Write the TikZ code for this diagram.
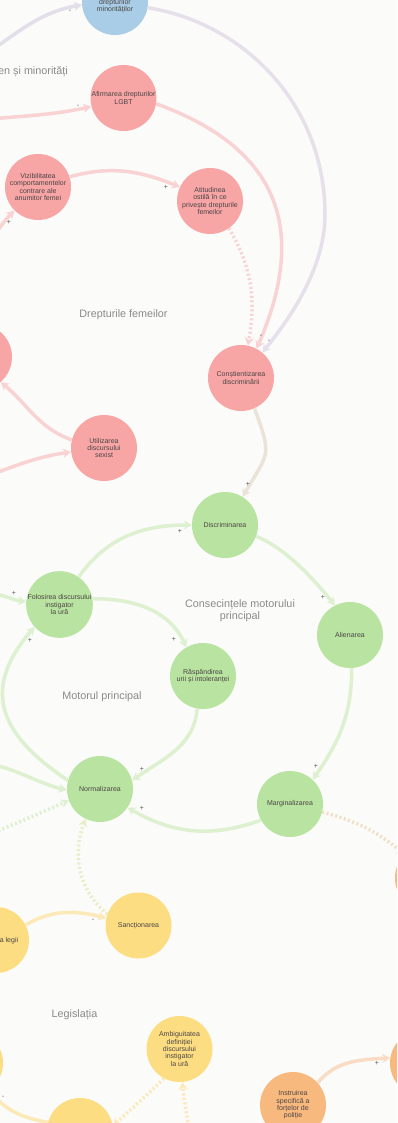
\documentclass[tikz,border=0pt]{standalone}
\usepackage{fontspec}
\setmainfont{Liberation Sans}
\usetikzlibrary{arrows.meta}
\definecolor{bg}{HTML}{FBFBF9}
\definecolor{cred}{HTML}{F8A5A6}
\definecolor{cgreen}{HTML}{B9E3A0}
\definecolor{cblue}{HTML}{A9CDE7}
\definecolor{cyellow}{HTML}{FDDD82}
\definecolor{corange}{HTML}{F8B97F}
\definecolor{lpink}{HTML}{F9D3D3}
\definecolor{lgreen}{HTML}{DDF0CF}
\definecolor{lyellow}{HTML}{FCE9B8}
\definecolor{lorange}{HTML}{F9DCC3}
\definecolor{lblue}{HTML}{E2DEEA}
\definecolor{lbluepink}{HTML}{E6E0EA}
\definecolor{lpinkgreen}{HTML}{ECE3D8}
\definecolor{lgreenyellow}{HTML}{EAEDC8}
\definecolor{lgreenorange}{HTML}{F0E0C8}
\definecolor{ntext}{HTML}{4A4545}
\definecolor{cgrp}{HTML}{8A8A8A}
\definecolor{csgn}{HTML}{555555}
\tikzset{
  nd/.style={circle, minimum size=66pt, inner sep=0pt, align=center,
    font=\fontsize{7}{7.4}\selectfont, text=ntext},
  rednd/.style={nd, fill=cred},
  greennd/.style={nd, fill=cgreen},
  bluend/.style={nd, fill=cblue},
  yellownd/.style={nd, fill=cyellow},
  orangend/.style={nd, fill=corange},
  ntxt/.style={align=center, inner sep=0pt, font=\fontsize{7}{7.4}\selectfont, text=ntext},
  conn/.style={line width=3.5pt, -{Stealth[length=8pt,width=9pt]}},
  dotc/.style={conn, dash pattern=on 2pt off 2.5pt},
  grp/.style={font=\fontsize{10.8}{11.5}\selectfont, text=cgrp, align=center, inner sep=0pt},
  sgn/.style={font=\fontsize{7}{7}\selectfont, text=csgn, inner sep=0pt},
}
\begin{document}
\begin{tikzpicture}[x=1pt,y=1pt]
\useasboundingbox (0,0) rectangle (397,-1123);
\fill[bg] (0,0) rectangle (397,-1123);
\clip (0,0) rectangle (397,-1123);

% nodes
\node[bluend] (blue) at (115,-2) {};
\node[ntxt] (bluet) at (115,-6) {drepturilor\\minorităților};
\node[rednd] (afirm) at (123.5,-98) {Afirmarea drepturilor\\LGBT};
\node[rednd] (viz) at (38,-187) {Vizibilitatea\\comportamentelor\\contrare ale\\anumitor femei};
\node[rednd] (atit) at (210,-201) {Atitudinea\\ostilă în ce\\privește drepturile\\femeilor};
\node[rednd] (consc) at (241,-378) {Conștientizarea\\discriminării};
\node[rednd] (util) at (104,-448) {Utilizarea\\discursului\\sexist};
\node[rednd] (lred) at (-21,-357) {};
\node[greennd] (disc) at (225,-525) {Discriminarea};
\node[greennd] (fol) at (59.5,-604.5) {Folosirea discursului\\instigator\\la ură};
\node[greennd] (alien) at (350,-635) {Alienarea};
\node[greennd] (rasp) at (203,-676) {Răspândirea\\urii și intoleranței};
\node[greennd] (norm) at (100,-789) {Normalizarea};
\node[greennd] (marg) at (290,-804) {Marginalizarea};
\node[yellownd] (sanc) at (138.5,-925.5) {Sancționarea};
\node[yellownd] (legii) at (-4,-940) {};
\node[ntxt] (legiit) at (9,-940.5) {a legii};
\node[yellownd] (lyel) at (-30,-1063) {};
\node[yellownd] (amb) at (179.5,-1049) {Ambiguitatea\\definiției\\discursului\\instigator\\la ură};
\node[yellownd] (byel) at (80,-1131) {};
\node[orangend] (instr) at (293,-1105) {Instruirea\\specifică a\\forțelor de\\poliție};
\node[orangend] (or1) at (428,-878) {};
\node[orangend] (or2) at (423,-1063) {};

% group labels
\node[grp, anchor=west] (gmin) at (-2,-72) {en și minorități};
\node[grp] (gfem) at (123.5,-315) {Drepturile femeilor};
\node[grp] (gcons) at (240,-610.5) {Consecințele motorului\\principal};
\node[grp] (gmot) at (102,-697) {Motorul principal};
\node[grp] (gleg) at (74.5,-1015) {Legislația};

% free ends
\coordinate (ea) at (-8,-50);
\coordinate (ec) at (-10,-119);
\coordinate (ef) at (-10,-240);
\coordinate (ei) at (-10,-475);
\coordinate (er) at (-10,-594);
\coordinate (es) at (-10,-764);
\coordinate (et) at (-10,-834);
\coordinate (ez) at (190,-1140);

% red / blue connectors
\draw[conn, draw=lblue] (ea) to[out=35,in=190] (blue.185);
\draw[conn, draw=lbluepink] (blue.-10) .. controls (240,-22) and (325,-101) .. (325,-215)
   .. controls (325,-270) and (287,-322) .. (consc.50);
\draw[conn, draw=lpink] (ec) to[out=5,in=192] (afirm.195);
\draw[conn, draw=lpink] (afirm.-10) .. controls (278,-148) and (309,-228) .. (consc.62);
\draw[conn, draw=lpink] (viz.18) to[out=15,in=158] (atit.155);
\draw[conn, draw=lpink] (ef) to[out=50,in=225] (viz.225);
\draw[dotc, draw=lpink] (atit.-55) to[out=-60,in=80] (consc.78);
\draw[conn, draw=lpink] (util.166) to[out=160,in=-40] (lred.-49);
\draw[conn, draw=lpink] (ei) to[out=20,in=188] (util.187);
\draw[conn, draw=lpinkgreen] (consc.-66) to[out=-70,in=60,looseness=1.5] (disc.58);

% green connectors
\draw[conn, draw=lgreen] (fol.55) to[out=55,in=180] (disc.180);
\draw[conn, draw=lgreen] (disc.-20) to[out=-22,in=129,looseness=0.8] (alien.117);
\draw[conn, draw=lgreen] (fol.10) to[out=0,in=115] (rasp.120);
\draw[conn, draw=lgreen] (rasp.-100) to[out=-95,in=35] (norm.15);
\draw[conn, draw=lgreen] (alien.-87) to[out=-90,in=55] (marg.47);
\draw[conn, draw=lgreen] (marg.209) to[out=200,in=-30] (norm.-34);
\draw[conn, draw=lgreen] (norm.165) .. controls (0,-735) and (-20,-690) .. (fol.222);
\draw[conn, draw=lgreen] (er) to[out=0,in=174] (fol.175);
\draw[conn, draw=lgreen] (es) to[out=-12,in=166] (norm.182);
\draw[dotc, draw=lgreen] (et) to[out=22,in=204] (norm.200);
\draw[dotc, draw=lgreenyellow] (sanc.160) to[out=140,in=250] (norm.-116);
\draw[dotc, draw=lgreenorange] (marg.-14) to[out=-15,in=140] (or1.135);

% yellow / orange connectors
\draw[conn, draw=lyellow] (legii.27) to[out=30,in=166] (sanc.167);
\draw[conn, draw=lyellow] (byel.165) to[out=170,in=-50] (lyel.-55);
\draw[dotc, draw=lyellow] (amb.-118) to[out=225,in=44] (byel.8);
\draw[dotc, draw=lyellow] (ez) to[out=95,in=-85] (amb.-85);
\draw[conn, draw=lorange] (instr.42) to[out=50,in=184] (or2.171);

% signs
\node[sgn] (s1) at (70,-11) {-};
\node[sgn] (s2) at (78,-106) {-};
\node[sgn] (s3) at (166,-187) {+};
\node[sgn] (s4) at (9,-222) {+};
\node[sgn] (s5) at (261,-336) {-};
\node[sgn] (s6) at (269,-341) {-};
\node[sgn] (s7) at (248,-484) {+};
\node[sgn] (s8) at (180,-531) {+};
\node[sgn] (s9) at (323,-597) {+};
\node[sgn] (s10) at (14,-593) {+};
\node[sgn] (s11) at (30,-640) {+};
\node[sgn] (s12) at (174,-639) {+};
\node[sgn] (s13) at (142,-769) {+};
\node[sgn] (s14) at (316,-766) {+};
\node[sgn] (s15) at (142,-808) {+};
\node[sgn] (s16) at (93,-920) {-};
\node[sgn] (s17) at (3,-1097) {-};
\node[sgn] (s18) at (377,-1063) {+};
\end{tikzpicture}
\end{document}
